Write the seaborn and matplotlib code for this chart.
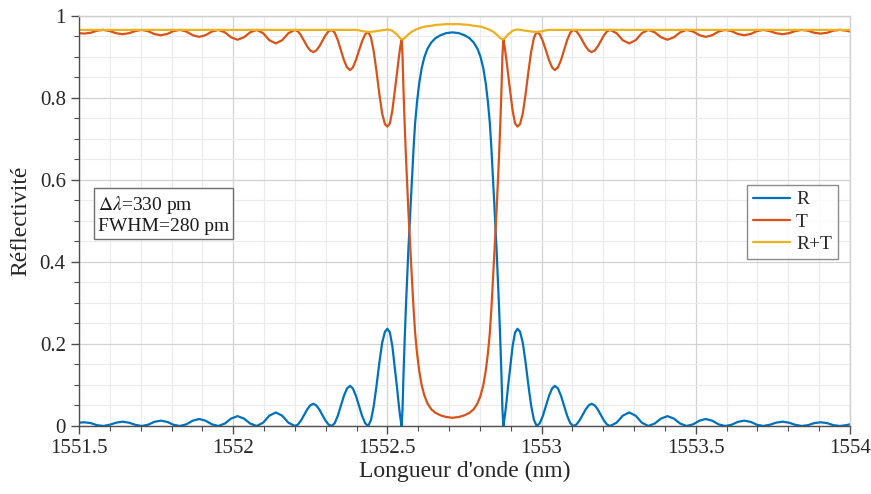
import numpy as np
import pandas as pd
import matplotlib
matplotlib.use("Agg")
import matplotlib.pyplot as plt
from matplotlib.ticker import MultipleLocator, FormatStrFormatter
import seaborn as sns

# Longueurs d'onde (nm)
longueur_onde = [
    1551.500, 1551.517, 1551.538, 1551.558, 1551.579, 1551.600, 1551.620, 1551.641, 1551.662, 1551.682,
    1551.703, 1551.724, 1551.744, 1551.765, 1551.786, 1551.806, 1551.827, 1551.848, 1551.869, 1551.890,
    1551.910, 1551.931, 1551.952, 1551.973, 1551.993, 1552.014, 1552.035, 1552.055, 1552.076, 1552.097,
    1552.117, 1552.138, 1552.159, 1552.179,
    1552.200, 1552.210, 1552.220, 1552.230, 1552.240, 1552.250, 1552.260, 1552.269, 1552.279, 1552.289,
    1552.299, 1552.309,
    1552.319, 1552.329, 1552.339, 1552.349, 1552.359, 1552.369, 1552.379, 1552.388, 1552.398, 1552.408,
    1552.418, 1552.428,
    1552.438, 1552.447, 1552.456, 1552.465, 1552.474, 1552.483, 1552.492, 1552.500, 1552.508, 1552.516,
    1552.525, 1552.531, 1552.536, 1552.541,
    1552.546, 1552.549, 1552.552, 1552.556, 1552.560, 1552.564, 1552.568, 1552.572, 1552.576, 1552.580,
    1552.585, 1552.590, 1552.596, 1552.603, 1552.611, 1552.620, 1552.630, 1552.642, 1552.656, 1552.672,
    1552.690, 1552.711,
    1552.732, 1552.750, 1552.766, 1552.780, 1552.792, 1552.802, 1552.811, 1552.819, 1552.826, 1552.832,
    1552.837, 1552.842, 1552.846, 1552.850, 1552.854, 1552.858, 1552.862, 1552.866, 1552.870, 1552.873,
    1552.876, 1552.881, 1552.886, 1552.891, 1552.897, 1552.906, 1552.914, 1552.922, 1552.930, 1552.939,
    1552.948, 1552.957, 1552.966, 1552.975,
    1552.984, 1552.994, 1553.004, 1553.014, 1553.024, 1553.034, 1553.043, 1553.053, 1553.063, 1553.073,
    1553.083, 1553.093,
    1553.103, 1553.113, 1553.123, 1553.133, 1553.143, 1553.153, 1553.162, 1553.172, 1553.182, 1553.192,
    1553.202, 1553.212,
    1553.222, 1553.243, 1553.263, 1553.284, 1553.305, 1553.325, 1553.346, 1553.367, 1553.387, 1553.408,
    1553.429, 1553.449, 1553.470, 1553.491, 1553.512, 1553.532, 1553.553, 1553.574, 1553.595, 1553.616,
    1553.636, 1553.657, 1553.678, 1553.698, 1553.719, 1553.740, 1553.760, 1553.781, 1553.802, 1553.822,
    1553.843, 1553.864, 1553.884, 1553.905, 1553.926, 1553.946, 1553.967, 1553.988, 1554.000,
]

# Reflectivite R
R = [
    0.008, 0.009, 0.007, 0.002, 0.000, 0.003, 0.008, 0.0105, 0.008, 0.003,
    0.000, 0.003, 0.010, 0.013, 0.010, 0.003, 0.000, 0.004, 0.013, 0.017,
    0.013, 0.004, 0.000, 0.006, 0.018, 0.024, 0.018, 0.006, 0.000, 0.008,
    0.025, 0.033, 0.025, 0.008,
    0.000, 0.0036, 0.0135, 0.027, 0.0405, 0.0504, 0.054, 0.0504, 0.0405, 0.027,
    0.0135, 0.0036,
    0.000, 0.0066, 0.0245, 0.049, 0.0735, 0.0915, 0.098, 0.0915, 0.0735, 0.049,
    0.0245, 0.0066,
    0.000, 0.015, 0.050, 0.100, 0.155, 0.203, 0.230, 0.237, 0.228, 0.195,
    0.135, 0.095, 0.058, 0.025,
    0.000, 0.040, 0.120, 0.210, 0.290, 0.360, 0.430, 0.490, 0.550, 0.610,
    0.680, 0.740, 0.790, 0.835, 0.872, 0.900, 0.920, 0.935, 0.946, 0.953,
    0.958, 0.960,
    0.958, 0.953, 0.946, 0.935, 0.920, 0.900, 0.872, 0.835, 0.790, 0.740,
    0.680, 0.610, 0.550, 0.490, 0.430, 0.360, 0.290, 0.210, 0.120, 0.040,
    0.000, 0.025, 0.058, 0.095, 0.135, 0.195, 0.228, 0.237, 0.230, 0.203,
    0.155, 0.100, 0.050, 0.015,
    0.000, 0.0066, 0.0245, 0.049, 0.0735, 0.0915, 0.098, 0.0915, 0.0735, 0.049,
    0.0245, 0.0066,
    0.000, 0.0036, 0.0135, 0.027, 0.0405, 0.0504, 0.054, 0.0504, 0.0405, 0.027,
    0.0135, 0.0036,
    0.000, 0.008, 0.025, 0.033, 0.025, 0.008, 0.000, 0.006, 0.018, 0.024,
    0.018, 0.006, 0.000, 0.004, 0.013, 0.017, 0.013, 0.004, 0.000, 0.003,
    0.010, 0.013, 0.010, 0.003, 0.000, 0.003, 0.008, 0.0105, 0.008, 0.003,
    0.000, 0.002, 0.007, 0.009, 0.007, 0.002, 0.000, 0.002, 0.004,
]

# Transmission T
T = [
    0.958, 0.957, 0.959, 0.964, 0.966, 0.963, 0.958, 0.9555, 0.958, 0.963,
    0.966, 0.963, 0.956, 0.953, 0.956, 0.963, 0.966, 0.962, 0.953, 0.949,
    0.953, 0.962, 0.966, 0.960, 0.948, 0.942, 0.948, 0.960, 0.966, 0.958,
    0.941, 0.933, 0.941, 0.958,
    0.966, 0.9624, 0.9525, 0.939, 0.9255, 0.9156, 0.912, 0.9156, 0.9255, 0.939,
    0.9525, 0.9624,
    0.966, 0.9594, 0.9415, 0.917, 0.8925, 0.8745, 0.868, 0.8745, 0.8925, 0.916,
    0.9385, 0.9554,
    0.961, 0.9465, 0.912, 0.863, 0.809, 0.762, 0.736, 0.730, 0.738, 0.769,
    0.823, 0.860, 0.892, 0.921,
    0.943, 0.9035, 0.824, 0.736, 0.659, 0.592, 0.525, 0.467, 0.410, 0.352,
    0.284, 0.226, 0.178, 0.135, 0.100, 0.074, 0.055, 0.041, 0.032, 0.026,
    0.022, 0.020,
    0.022, 0.026, 0.032, 0.041, 0.055, 0.074, 0.100, 0.135, 0.178, 0.226,
    0.284, 0.352, 0.410, 0.467, 0.525, 0.592, 0.659, 0.736, 0.824, 0.9035,
    0.943, 0.921, 0.892, 0.860, 0.823, 0.769, 0.738, 0.730, 0.736, 0.762,
    0.809, 0.863, 0.912, 0.9465,
    0.961, 0.9554, 0.9385, 0.916, 0.8925, 0.8745, 0.868, 0.8745, 0.8925, 0.917,
    0.9415, 0.9594,
    0.966, 0.9624, 0.9525, 0.939, 0.9255, 0.9156, 0.912, 0.9156, 0.9255, 0.939,
    0.9525, 0.9624,
    0.966, 0.958, 0.941, 0.933, 0.941, 0.958, 0.966, 0.960, 0.948, 0.942,
    0.948, 0.960, 0.966, 0.962, 0.953, 0.949, 0.953, 0.962, 0.966, 0.963,
    0.956, 0.953, 0.956, 0.963, 0.966, 0.963, 0.958, 0.9555, 0.958, 0.963,
    0.966, 0.964, 0.959, 0.957, 0.959, 0.964, 0.966, 0.964, 0.962,
]

courbes = ["R", "T", "R+T"]
couleurs = ["#0072BD", "#D95319", "#EDB120"]
annotation = "$\\Delta\\lambda$=330 pm\nFWHM=280 pm"

RT = [r + t for r, t in zip(R, T)]
df = pd.DataFrame({"Longueur": longueur_onde, "R": R, "T": T, "R+T": RT})
df = df.melt(id_vars="Longueur", value_vars=courbes, var_name="courbe", value_name="valeur")

sns.set_style("white")
plt.rcParams["font.family"] = ["Liberation Serif", "DejaVu Serif"]
plt.rcParams["mathtext.fontset"] = "stix"

fig = plt.figure(figsize=(8.71, 4.94), dpi=100)
ax = fig.add_axes([0.0907, 0.1377, 0.8852, 0.83])

sns.lineplot(data=df, x="Longueur", y="valeur", hue="courbe", hue_order=courbes,
             palette=couleurs, estimator=None, sort=False, linewidth=1.6, ax=ax)

ax.set_xlim(1551.5, 1554)
ax.set_ylim(0, 1)
ax.xaxis.set_major_locator(MultipleLocator(0.5))
ax.xaxis.set_minor_locator(MultipleLocator(0.1))
ax.yaxis.set_major_locator(MultipleLocator(0.2))
ax.yaxis.set_minor_locator(MultipleLocator(0.05))
ax.xaxis.set_major_formatter(FormatStrFormatter("%g"))
ax.yaxis.set_major_formatter(FormatStrFormatter("%g"))

ax.grid(which="major", color="#d2d2d2", linewidth=0.9)
ax.grid(which="minor", color="#ebebeb", linewidth=0.8)
ax.set_axisbelow(True)

ax.tick_params(which="major", direction="out", length=6, width=1, color="#4d4d4d",
               labelsize=15, labelcolor="#262626", bottom=True, left=True)
ax.tick_params(which="minor", direction="out", length=3.5, width=0.8, color="#4d4d4d",
               bottom=True, left=True)
for cote in ["left", "bottom"]:
    ax.spines[cote].set_color("#4d4d4d")
    ax.spines[cote].set_linewidth(1.0)
for cote in ["top", "right"]:
    ax.spines[cote].set_color("#cfcfcf")
    ax.spines[cote].set_linewidth(1.0)

ax.set_xlabel("Longueur d'onde (nm)", fontsize=17, color="#262626", labelpad=2)
ax.set_ylabel("Réflectivité", fontsize=17, color="#262626", labelpad=6)

handles, labels = ax.get_legend_handles_labels()
ax.legend(handles, labels, loc="upper right", bbox_to_anchor=(0.984, 0.588),
          fontsize=14, frameon=True, fancybox=False, edgecolor="#6e6e6e",
          handlelength=1.9, handletextpad=0.3, borderpad=0.3, labelspacing=0.25,
          borderaxespad=0)

ax.text(0.025, 0.565, annotation, transform=ax.transAxes, fontsize=14, va="top", ha="left",
        linespacing=1.15, color="#1a1a1a",
        bbox=dict(boxstyle="square,pad=0.2", facecolor="white", edgecolor="#6e6e6e"))

fig.savefig("out.png", dpi=100)
